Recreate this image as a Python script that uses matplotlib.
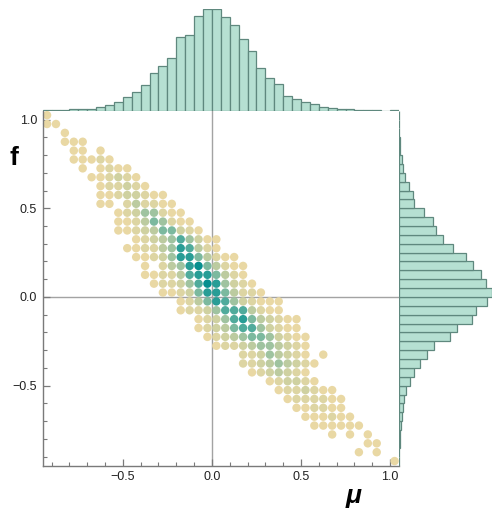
import numpy as np
import matplotlib.pyplot as plt
from matplotlib.colors import LinearSegmentedColormap
from matplotlib.ticker import MultipleLocator

plt.rcParams['font.family'] = ['Liberation Sans', 'DejaVu Sans']

# bin edges shared by the 2D density and both marginals
edges = np.round(np.arange(-0.95, 1.051, 0.05), 3)
centers = edges[:-1] + 0.025

# 2D histogram, one string per f-bin (top row = f near 1.05), one char per mu-bin
# '.' = empty, 1..9 = density level
density_rows = [
    "1.......................................",
    "11......................................",
    "..1.....................................",
    "..111...................................",
    "...11.1.................................",
    "...11121................................",
    "....1.1211..............................",
    ".....112321.............................",
    "......122321............................",
    "......11233211..........................",
    "......11.242211.........................",
    "........12355211........................",
    "........112465211.......................",
    "........1123466321......................",
    "..........1234575311....................",
    ".........11224587421....................",
    "..........112358864211..................",
    "...........1.2458964211.................",
    "...........112247886421.................",
    "............122357985321................",
    ".............112368864221...............",
    "...............124687532111.............",
    "...............122357774211.............",
    ".................123578643211...........",
    ".................123467753211...........",
    "..................123456653211..........",
    "...................12234554321..........",
    "......................22354321.1........",
    "......................223454321.........",
    ".......................1234321..........",
    ".........................123321.........",
    "..........................1223211.......",
    "...........................1222211......",
    "............................112211......",
    ".............................111211.....",
    "..............................111111....",
    "................................1.1.1...",
    "....................................11..",
    "...................................1.1..",
    ".......................................1",
]

# marginal histogram heights (relative), mu bins left to right
mu_counts = [1, 2, 2, 4, 5, 5, 10, 17, 27, 40, 56, 76, 112, 135, 157, 220, 227,
             284, 305, 305, 280, 257, 215, 179, 127, 99, 79, 44, 36, 25, 21, 12,
             8, 5, 4, 3, 2, 2, 0, 2]
# f bins bottom to top
f_counts = [0.5, 1, 2, 3, 6, 9, 13, 15, 21, 33, 44, 63, 84, 105, 151, 174, 218,
            231, 262, 277, 259, 245, 222, 199, 162, 131, 110, 102, 74, 45, 41,
            30, 18, 11, 9, 3, 2, 0.5, 0.5, 0.5]

cmap = LinearSegmentedColormap.from_list(
    'sandteal', ['#e9d8a4', '#d6d3a2', '#b9caa0', '#86bca0', '#3fa69b', '#078f8f'])

xs, ys, lv = [], [], []
for j, row in enumerate(density_rows):
    for i, ch in enumerate(row):
        if ch != '.':
            xs.append(centers[i])
            ys.append(centers[::-1][j])
            lv.append(int(ch))
lv = np.array(lv)

W, H = 492, 511
fig = plt.figure(figsize=(W / 100, H / 100), dpi=100)


def px_axes(x0, y0, x1, y1):
    return fig.add_axes([x0 / W, 1 - y1 / H, (x1 - x0) / W, (y1 - y0) / H])


ax = px_axes(42.6, 110.7, 399.0, 465.5)
ax_top = px_axes(42.6, 9, 399.0, 110.7)
ax_right = px_axes(399.0, 110.7, 492, 465.5)

# main density plot
ax.axhline(0, color='#a3a3a3', lw=1.0, zorder=1)
ax.axvline(0, color='#a3a3a3', lw=1.0, zorder=1)
ax.scatter(xs, ys, s=37, c=cmap((lv - 1) / 8), edgecolors='none', zorder=2, clip_on=False)
ax.set_xlim(-0.95, 1.05)
ax.set_ylim(-0.95, 1.05)
for s in ['top', 'right']:
    ax.spines[s].set_visible(False)
for s in ['left', 'bottom']:
    ax.spines[s].set_color('#7a7a7a')
    ax.spines[s].set_linewidth(1.0)
ticks = [-0.5, 0.0, 0.5, 1.0]
labels = ['\u22120.5', '0.0', '0.5', '1.0']
ax.set_xticks(ticks, labels)
ax.set_yticks(ticks, labels)
ax.xaxis.set_minor_locator(MultipleLocator(0.1))
ax.yaxis.set_minor_locator(MultipleLocator(0.1))
ax.tick_params(which='major', direction='in', length=5, width=0.9, color='#7a7a7a',
               labelsize=9, labelcolor='#222222', pad=4)
ax.tick_params(which='minor', direction='in', length=3, width=0.8, color='#7a7a7a')

# marginal histograms
bar_kw = dict(color='#b6e0d2', edgecolor='#5f887e', linewidth=0.9)
ax_top.bar(edges[:-1], mu_counts, width=0.05, align='edge', **bar_kw)
ax_top.set_xlim(-0.95, 1.05)
ax_top.set_ylim(0, 305)
ax_top.axis('off')

ax_right.barh(edges[:-1], f_counts, height=0.05, align='edge', **bar_kw)
ax_right.set_ylim(-0.95, 1.05)
ax_right.set_xlim(0, 278)
ax_right.axis('off')

fig.text(14 / W, 1 - 158 / H, 'f', fontsize=19, fontweight='bold', ha='center', va='center')
fig.text(354 / W, 1 - 496 / H, '\u03bc', fontsize=19, fontweight='bold', fontstyle='italic',
         ha='center', va='center')

fig.savefig('out.png', dpi=100)
